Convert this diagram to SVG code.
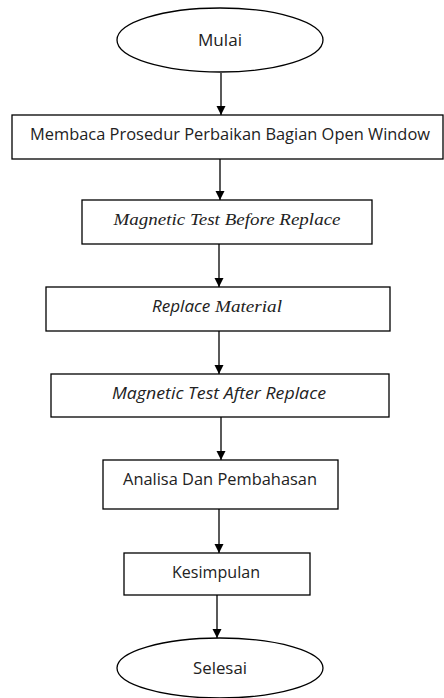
<svg xmlns="http://www.w3.org/2000/svg" width="444" height="698" viewBox="0 0 444 698">
<defs>
<marker id="arr" markerWidth="10" markerHeight="10" refX="9" refY="5" orient="auto" markerUnits="userSpaceOnUse">
<path d="M0,0.5 L9,5 L0,9.5 Z" fill="#000"/>
</marker>
<style>
.shape{fill:#fff;stroke:#000;stroke-width:1.3}
.t{font-family:"Open Sans","Noto Sans",sans-serif;font-size:15.6px;fill:#222;text-anchor:middle;dominant-baseline:central}
.ts{font-family:"Liberation Serif",serif;font-style:italic;font-size:17.5px;fill:#222;text-anchor:middle;dominant-baseline:central}
.ti{font-family:"Open Sans","Noto Sans",sans-serif;font-style:italic;font-size:15.6px;fill:#222;text-anchor:middle;dominant-baseline:central}
.c{stroke:#000;stroke-width:1.3;fill:none;marker-end:url(#arr)}
</style>
</defs>
<rect width="444" height="698" fill="#fff"/>
<g id="connectors">
<line class="c" x1="221" y1="73" x2="221" y2="115"/>
<line class="c" x1="220" y1="159" x2="220" y2="200"/>
<line class="c" x1="219" y1="244" x2="219" y2="287"/>
<line class="c" x1="219" y1="331" x2="219" y2="374"/>
<line class="c" x1="221" y1="417" x2="221" y2="460"/>
<line class="c" x1="219" y1="509" x2="219" y2="553"/>
<line class="c" x1="217" y1="595" x2="217" y2="638"/>
</g>
<g id="mulai">
<ellipse class="shape" cx="220" cy="40" rx="103" ry="32"/>
<text class="t" x="220" y="40" textLength="44" lengthAdjust="spacingAndGlyphs">Mulai</text>
</g>
<g id="membaca">
<rect class="shape" x="12" y="115" width="431" height="44"/>
<text class="t" x="230" y="134" textLength="400" lengthAdjust="spacingAndGlyphs">Membaca Prosedur Perbaikan Bagian Open Window</text>
</g>
<g id="before">
<rect class="shape" x="82" y="200" width="290" height="44"/>
<text class="ts" x="227" y="219" textLength="227" lengthAdjust="spacingAndGlyphs">Magnetic Test Before Replace</text>
</g>
<g id="replace">
<rect class="shape" x="46" y="287" width="344" height="44"/>
<text x="217" y="306" class="ti" textLength="130" lengthAdjust="spacingAndGlyphs"><tspan>Replace</tspan><tspan class="ts"> Material</tspan></text>
</g>
<g id="after">
<rect class="shape" x="51" y="374" width="338" height="43"/>
<text class="ti" x="219" y="393" textLength="214" lengthAdjust="spacingAndGlyphs">Magnetic Test After Replace</text>
</g>
<g id="analisa">
<rect class="shape" x="103" y="460" width="235" height="49"/>
<text class="t" x="220" y="479" textLength="194" lengthAdjust="spacingAndGlyphs">Analisa Dan Pembahasan</text>
</g>
<g id="kesimpulan">
<rect class="shape" x="124" y="553" width="186" height="42"/>
<text class="t" x="216" y="572" textLength="88" lengthAdjust="spacingAndGlyphs">Kesimpulan</text>
</g>
<g id="selesai">
<ellipse class="shape" cx="220" cy="668" rx="103" ry="30"/>
<text class="t" x="220" y="668" textLength="54" lengthAdjust="spacingAndGlyphs">Selesai</text>
</g>
</svg>
